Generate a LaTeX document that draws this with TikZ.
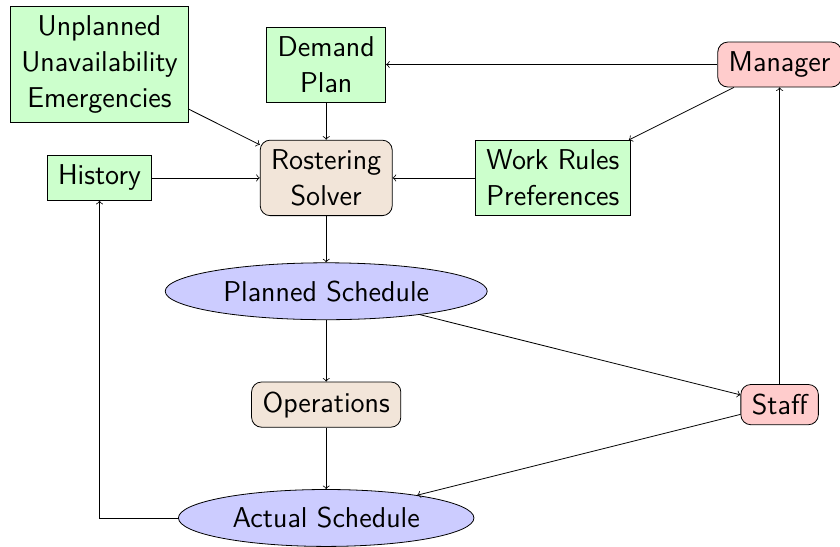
\documentclass[tikz,border=0pt]{standalone}
\usetikzlibrary{shapes.geometric}
\begin{document}
\begin{tikzpicture}[
  every node/.style={font=\sffamily\Large, inner xsep=5.5pt, inner ysep=4.8pt},
  inbox/.style={draw, fill=green!20, align=center},
  procbox/.style={draw, fill=brown!20, rounded corners=5pt, align=center},
  actorbox/.style={draw, fill=red!20, rounded corners=5pt, align=center},
  schedbox/.style={draw, ellipse, fill=blue!20},
  flow/.style={->}
]
\useasboundingbox (-49.95pt,32.4pt) rectangle ++(421.7pt,-274.1pt);

% inputs and actors
\node[inbox]    (unpl)    at (0,0)   {Unplanned\\Unavailability\\Emergencies};
\node[inbox]    (demand)  at (4,0)   {Demand\\Plan};
\node[actorbox] (manager) at (12,0)  {Manager};
\node[inbox]    (history) at (0,-2)  {History};
\node[procbox]  (solver)  at (4,-2)  {Rostering\\Solver};
\node[inbox]    (rules)   at (8,-2)  {Work Rules\\Preferences};

% schedules and operations
\node[schedbox] (planned) at (4,-4)  {Planned Schedule};
\node[procbox]  (ops)     at (4,-6)  {Operations};
\node[actorbox] (staff)   at (12,-6) {Staff};
\node[schedbox] (actual)  at (4,-8)  {Actual Schedule};

% connectors
\draw[flow] (unpl) -- (solver);
\draw[flow] (demand) -- (solver);
\draw[flow] (history) -- (solver);
\draw[flow] (rules) -- (solver);
\draw[flow] (manager) -- (demand);
\draw[flow] (manager) -- (rules);
\draw[flow] (solver) -- (planned);
\draw[flow] (planned) -- (ops);
\draw[flow] (planned) -- (staff);
\draw[flow] (ops) -- (actual);
\draw[flow] (staff) -- (actual);
\draw[flow] (staff) -- (manager);
\draw[flow] (actual.west) -| (history.south);
\end{tikzpicture}
\end{document}
